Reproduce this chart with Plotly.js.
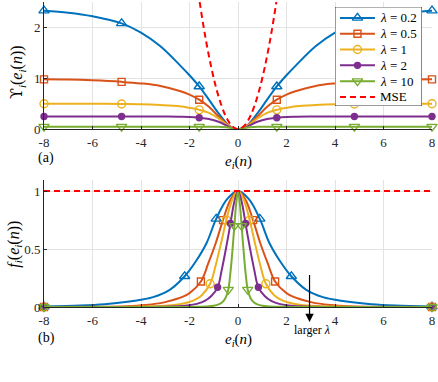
<!DOCTYPE html>
<html>
<head>
<meta charset="utf-8">
<script src="https://cdn.plot.ly/plotly-3.0.1.min.js"></script>
<style>
  html, body { margin: 0; padding: 0; background: #fff; }
  #chart { width: 438px; height: 382px; }
</style>
</head>
<body>
<div id="chart"></div>
<script>
// series labels and styles
const lambdas = ['0.2', '0.5', '1', '2', '10'];
const colors = ['#0072BD', '#D95319', '#EDB120', '#7E2F8E', '#77AC30'];
const symbols = ['triangle-up-open', 'square-open', 'circle-open', 'circle', 'triangle-down-open'];
const symSizes = [9, 7, 8, 6, 9];

// (a) cost curves
const errTop = [-8, -7, -6, -4.8, -4, -3.2, -2.4, -2, -1.6, -1.2, -0.8, -0.4, -0.2, 0,
  0.2, 0.4, 0.8, 1.2, 1.6, 2, 2.4, 3.2, 4, 4.8, 6, 7, 8];
const costL02 = [2.33, 2.29, 2.22, 2.08, 1.90, 1.63, 1.26, 1.06, 0.84, 0.58, 0.31, 0.08, 0.02, 0,
  0.02, 0.08, 0.31, 0.58, 0.84, 1.06, 1.26, 1.63, 1.90, 2.08, 2.22, 2.29, 2.33];
const costL05 = [0.98, 0.975, 0.96, 0.93, 0.90, 0.85, 0.75, 0.68, 0.58, 0.44, 0.25, 0.075, 0.02, 0,
  0.02, 0.075, 0.25, 0.44, 0.58, 0.68, 0.75, 0.85, 0.90, 0.93, 0.96, 0.975, 0.98];
const costL1 = [0.50, 0.50, 0.50, 0.495, 0.49, 0.475, 0.45, 0.42, 0.38, 0.32, 0.21, 0.07, 0.02, 0,
  0.02, 0.07, 0.21, 0.32, 0.38, 0.42, 0.45, 0.475, 0.49, 0.495, 0.50, 0.50, 0.50];
const costL2 = [0.25, 0.25, 0.25, 0.25, 0.25, 0.25, 0.245, 0.24, 0.225, 0.20, 0.145, 0.055, 0.017, 0,
  0.017, 0.055, 0.145, 0.20, 0.225, 0.24, 0.245, 0.25, 0.25, 0.25, 0.25, 0.25, 0.25];
const costL10 = [0.05, 0.05, 0.05, 0.05, 0.05, 0.05, 0.05, 0.05, 0.05, 0.05, 0.048, 0.035, 0.016, 0,
  0.016, 0.035, 0.048, 0.05, 0.05, 0.05, 0.05, 0.05, 0.05, 0.05, 0.05, 0.05, 0.05];
const topMarkAt = [-8, -4.8, -1.6, 1.6, 4.8, 8];

const mseErr = [-1.7, -1.5, -1.3, -1.1, -0.9, -0.7, -0.5, -0.3, -0.1, 0, 0.1, 0.3, 0.5, 0.7, 0.9, 1.1, 1.3, 1.5, 1.7];
const mseCost = [2.89, 2.25, 1.69, 1.21, 0.81, 0.49, 0.25, 0.09, 0.01, 0, 0.01, 0.09, 0.25, 0.49, 0.81, 1.21, 1.69, 2.25, 2.89];

// (b) weighting curves
const errW02 = [-8, -6.5, -5.5, -4.4, -3.5, -2.8, -2.2, -1.75, -1.3, -0.9, -0.45, 0,
  0.45, 0.9, 1.3, 1.75, 2.2, 2.8, 3.5, 4.4, 5.5, 6.5, 8];
const wL02 = [0.004, 0.012, 0.024, 0.05, 0.085, 0.15, 0.265, 0.39, 0.55, 0.76, 0.93, 1,
  0.93, 0.76, 0.55, 0.39, 0.265, 0.15, 0.085, 0.05, 0.024, 0.012, 0.004];
const errW05 = [-8, -6, -4.6, -3.8, -3.05, -2.45, -2, -1.53, -1.22, -0.92, -0.62, -0.3, 0,
  0.3, 0.62, 0.92, 1.22, 1.53, 2, 2.45, 3.05, 3.8, 4.6, 6, 8];
const wL05 = [0.0005, 0.002, 0.007, 0.018, 0.04, 0.075, 0.12, 0.22, 0.38, 0.55, 0.75, 0.93, 1,
  0.93, 0.75, 0.55, 0.38, 0.22, 0.12, 0.075, 0.04, 0.018, 0.007, 0.002, 0.0005];
const errW1 = [-8, -5, -3.5, -2.9, -2.3, -1.85, -1.5, -1.15, -0.92, -0.7, -0.48, -0.23, 0,
  0.23, 0.48, 0.7, 0.92, 1.15, 1.5, 1.85, 2.3, 2.9, 3.5, 5, 8];
const wL1 = [0, 0.001, 0.006, 0.012, 0.028, 0.055, 0.10, 0.20, 0.36, 0.55, 0.75, 0.93, 1,
  0.93, 0.75, 0.55, 0.36, 0.20, 0.10, 0.055, 0.028, 0.012, 0.006, 0.001, 0];
const errW2 = [-8, -4, -2.5, -2.1, -1.7, -1.35, -1.1, -0.84, -0.67, -0.5, -0.31, -0.16, 0,
  0.16, 0.31, 0.5, 0.67, 0.84, 1.1, 1.35, 1.7, 2.1, 2.5, 4, 8];
const wL2 = [0, 0.001, 0.007, 0.013, 0.027, 0.055, 0.095, 0.17, 0.32, 0.5, 0.72, 0.9, 1,
  0.9, 0.72, 0.5, 0.32, 0.17, 0.095, 0.055, 0.027, 0.013, 0.007, 0.001, 0];
const errW10 = [-8, -2, -1.3, -1, -0.8, -0.65, -0.52, -0.4, -0.32, -0.24, -0.15, -0.08, 0,
  0.08, 0.15, 0.24, 0.32, 0.4, 0.52, 0.65, 0.8, 1, 1.3, 2, 8];
const wL10 = [0, 0.001, 0.004, 0.01, 0.022, 0.04, 0.075, 0.15, 0.28, 0.46, 0.70, 0.88, 1,
  0.88, 0.70, 0.46, 0.28, 0.15, 0.075, 0.04, 0.022, 0.01, 0.004, 0.001, 0];
const markW02 = [-8, -2.2, -0.9, 0.9, 2.2, 8];
const markW05 = [-8, -1.53, -0.62, 0.62, 1.53, 8];
const markW1 = [-8, -1.15, -0.48, 0.48, 1.15, 8];
const markW2 = [-8, -0.84, -0.31, 0.31, 0.84, 8];
const markW10 = [-8, -0.4, -0.15, 0.15, 0.4, 8];

const mseW = [1, 1];
const mseWErr = [-8, 8];

const topCost = [costL02, costL05, costL1, costL2, costL10];
const botErr = [errW02, errW05, errW1, errW2, errW10];
const botW = [wL02, wL05, wL1, wL2, wL10];
const botMark = [markW02, markW05, markW1, markW2, markW10];

// legend rows (hand-built legend box, in px inside the box)
const legendNames = lambdas.map(l => '<i>λ</i> = ' + l).concat(['MSE']);
const legendRows = [11, 26.8, 42.6, 58.4, 74.2, 90];

const serif = 'Liberation Serif, Times New Roman, serif';

function pick(xs, ys, at) {
  const px = [], py = [];
  at.forEach(v => {
    const k = xs.indexOf(v);
    if (k >= 0) { px.push(xs[k]); py.push(ys[k]); }
  });
  return { x: px, y: py };
}

const traces = [];
lambdas.forEach((lam, i) => {
  const mk = { symbol: symbols[i], size: symSizes[i], color: colors[i], line: { color: colors[i], width: 1.4 } };
  // top panel
  traces.push({ x: errTop, y: topCost[i], xaxis: 'x', yaxis: 'y', mode: 'lines',
    line: { color: colors[i], width: 2, shape: 'spline' }, hoverinfo: 'skip' });
  const tm = pick(errTop, topCost[i], topMarkAt);
  traces.push({ x: tm.x, y: tm.y, xaxis: 'x', yaxis: 'y', mode: 'markers', marker: mk, cliponaxis: false });
  // bottom panel
  traces.push({ x: botErr[i], y: botW[i], xaxis: 'x2', yaxis: 'y2', mode: 'lines',
    line: { color: colors[i], width: 2, shape: 'spline' }, hoverinfo: 'skip' });
  const bm = pick(botErr[i], botW[i], botMark[i]);
  traces.push({ x: bm.x, y: bm.y, xaxis: 'x2', yaxis: 'y2', mode: 'markers', marker: mk, cliponaxis: false });
});

traces.push({ x: mseWErr, y: mseW, xaxis: 'x2', yaxis: 'y2', mode: 'lines',
  line: { color: '#FF0000', width: 2, dash: '6px,4px' } });
traces.push({ x: mseErr, y: mseCost, xaxis: 'x', yaxis: 'y', mode: 'lines',
  line: { color: '#FF0000', width: 2, dash: '6px,4px', shape: 'spline' } });

// legend box drawn on its own small subplot so it covers the curves
traces.push({ x: [0, 87, 87, 0, 0], y: [0, 0, 99, 99, 0], xaxis: 'x3', yaxis: 'y3', mode: 'lines',
  fill: 'toself', fillcolor: '#fff', line: { color: '#000', width: 0.8 }, cliponaxis: false });
legendRows.forEach((r, i) => {
  const isMse = i === lambdas.length;
  const col = isMse ? '#FF0000' : colors[i];
  traces.push({ x: [5, 40], y: [r, r], xaxis: 'x3', yaxis: 'y3', mode: 'lines',
    line: { color: col, width: 2, dash: isMse ? '6px,4px' : 'solid' } });
  if (!isMse) {
    traces.push({ x: [22.5], y: [r], xaxis: 'x3', yaxis: 'y3', mode: 'markers',
      marker: { symbol: symbols[i], size: symSizes[i], color: col, line: { color: col, width: 1.4 } } });
  }
});

const axBase = {
  showline: true, linecolor: '#262626', linewidth: 1,
  ticks: 'inside', ticklen: 3, tickcolor: '#262626',
  showgrid: true, gridcolor: '#e3e3e3', zeroline: false,
  tickfont: { family: serif, size: 13, color: '#262626' }
};
const xTicks = [-8, -6, -4, -2, 0, 2, 4, 6, 8];

const eLabel = '<i>e</i><sub><i>i</i></sub>(<i>n</i>)';
const upsilon = '<span style="font-family:DejaVu Serif">ϒ</span>';

const annotations = [
  { xref: 'paper', yref: 'paper', x: -0.068, y: 0.769, xanchor: 'center', yanchor: 'middle',
    textangle: -90, showarrow: false,
    text: upsilon + '<sub><i>i</i></sub>(' + eLabel + ')', font: { family: serif, size: 16 } },
  { xref: 'paper', yref: 'paper', x: -0.075, y: 0.207, xanchor: 'center', yanchor: 'middle',
    textangle: -90, showarrow: false,
    text: '<i>f</i><sub><i>i</i></sub>(' + eLabel + ')', font: { family: serif, size: 16 } },
  { xref: 'paper', yref: 'paper', x: 0.5, y: 0.476, xanchor: 'center', yanchor: 'middle', showarrow: false,
    text: eLabel, font: { family: serif, size: 15 } },
  { xref: 'paper', yref: 'paper', x: 0.5, y: -0.108, xanchor: 'center', yanchor: 'middle', showarrow: false,
    text: eLabel, font: { family: serif, size: 15 } },
  { xref: 'paper', yref: 'paper', x: 0.004, y: 0.487, xanchor: 'center', yanchor: 'middle', showarrow: false,
    text: '(a)', font: { family: serif, size: 14 } },
  { xref: 'paper', yref: 'paper', x: 0.006, y: -0.1, xanchor: 'center', yanchor: 'middle', showarrow: false,
    text: '(b)', font: { family: serif, size: 14 } },
  { xref: 'x2', yref: 'y2', x: 2.95, y: -0.13, axref: 'x2', ayref: 'y2', ax: 2.95, ay: 0.29,
    text: '', showarrow: true, arrowhead: 2, arrowsize: 1.4, arrowwidth: 1.2, arrowcolor: '#000' },
  { xref: 'x2', yref: 'paper', x: 3.05, y: -0.075, xanchor: 'center', yanchor: 'middle', showarrow: false,
    text: 'larger <i>λ</i>', font: { family: serif, size: 12 } }
];
legendRows.forEach((r, i) => {
  annotations.push({ xref: 'x3', yref: 'y3', x: 43, y: r, xanchor: 'left', yanchor: 'middle',
    showarrow: false, text: legendNames[i], font: { family: serif, size: 13, color: '#000' } });
});

const hidden = { visible: false, showgrid: false, zeroline: false, fixedrange: true };

const layout = {
  width: 438, height: 382,
  margin: { l: 44, r: 6, t: 2, b: 75 },
  paper_bgcolor: '#fff', plot_bgcolor: 'rgba(0,0,0,0)',
  font: { family: serif, color: '#000' },
  showlegend: false,
  xaxis: Object.assign({}, axBase, { domain: [0, 1], anchor: 'y', range: [-8, 8],
    tickvals: xTicks, ticktext: xTicks.map(String), ticklabelstandoff: 1 }),
  yaxis: Object.assign({}, axBase, { domain: [0.583, 1], anchor: 'x', range: [0, 2.5],
    tickvals: [0, 1, 2] }),
  xaxis2: Object.assign({}, axBase, { domain: [0, 1], anchor: 'y2', range: [-8, 8],
    tickvals: xTicks, ticktext: xTicks.map(String), ticklabelstandoff: 1 }),
  yaxis2: Object.assign({}, axBase, { domain: [0, 0.418], anchor: 'x2', range: [0, 1.1],
    tickvals: [0, 0.5, 1], ticktext: ['0', '0.5', '1'] }),
  xaxis3: Object.assign({}, hidden, { domain: [0.75, 0.974], anchor: 'y3', range: [0, 87] }),
  yaxis3: Object.assign({}, hidden, { domain: [0.659, 0.984], anchor: 'x3', range: [99, 0] }),
  annotations: annotations
};

Plotly.newPlot('chart', traces, layout, { displayModeBar: false, staticPlot: true });
</script>
</body>
</html>
